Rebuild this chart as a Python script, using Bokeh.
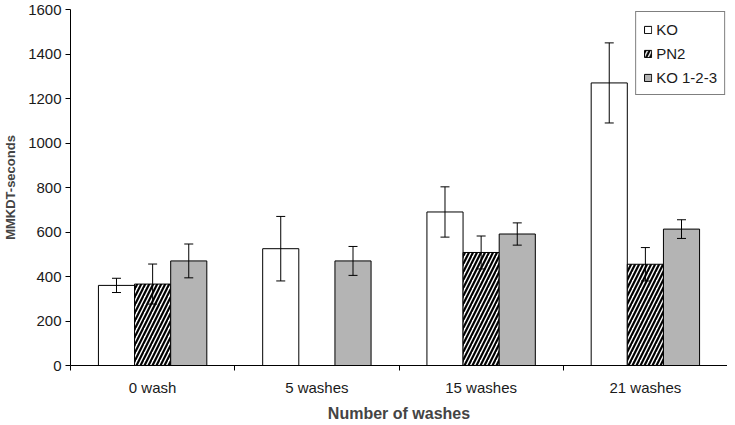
from bokeh.plotting import figure
from bokeh.models import (ColumnDataSource, Range1d, FixedTicker, Whisker, TeeHead,
                          Legend, LegendItem, Span)
from bokeh.embed import file_html
from bokeh.resources import INLINE

categories = ["0 wash", "5 washes", "15 washes", "21 washes"]
ko_vals = [360, 525, 690, 1270]
ko_err = [32, 145, 113, 180]
pn2_vals = [366, None, 508, 455]
pn2_err = [90, None, 74, 75]
ko123_vals = [470, 470, 591, 613]
ko123_err = [76, 65, 50, 42]
y_ticks = [0, 200, 400, 600, 800, 1000, 1200, 1400, 1600]

FONT = "Liberation Sans"
BAR_W = 0.22

p = figure(width=727, height=424, output_backend="svg", toolbar_location=None,
           x_range=Range1d(0, len(categories)), y_range=Range1d(0, 1600),
           min_border_left=66, min_border_right=0, min_border_top=9,
           min_border_bottom=55)
p.outline_line_color = None
p.xgrid.visible = False
p.ygrid.visible = False
p.background_fill_color = "white"
p.border_fill_color = "white"


def make_src(vals, errs, offset):
    xs, tops, lo, hi = [], [], [], []
    for i, (v, e) in enumerate(zip(vals, errs)):
        if v is None:
            continue
        xs.append(i + 0.5 + offset)
        tops.append(v)
        lo.append(v - e)
        hi.append(v + e)
    return ColumnDataSource(dict(x=xs, top=tops, lower=lo, upper=hi))


src_ko = make_src(ko_vals, ko_err, -BAR_W)
src_pn2 = make_src(pn2_vals, pn2_err, 0.0)
src_123 = make_src(ko123_vals, ko123_err, BAR_W)

r_ko = p.vbar(x="x", top="top", bottom=0, width=BAR_W, source=src_ko,
              fill_color="white", line_color="black", line_width=1)
r_pn2 = p.vbar(x="x", top="top", bottom=0, width=BAR_W, source=src_pn2,
               fill_color="white", line_color="black", line_width=1,
               hatch_pattern="/", hatch_color="black", hatch_weight=2.2,
               hatch_scale=8)
r_123 = p.vbar(x="x", top="top", bottom=0, width=BAR_W, source=src_123,
               fill_color="#b4b4b4", line_color="black", line_width=1)

for src in (src_ko, src_pn2, src_123):
    w = Whisker(base="x", lower="lower", upper="upper", source=src,
                level="annotation", line_color="black", line_width=1,
                upper_head=TeeHead(size=9, line_color="black", line_width=1),
                lower_head=TeeHead(size=9, line_color="black", line_width=1))
    p.add_layout(w)

# right border line
p.add_layout(Span(location=len(categories), dimension="height",
                  line_color="black", line_width=1))

# y axis
yax = p.yaxis[0]
yax.ticker = FixedTicker(ticks=y_ticks)
yax.major_tick_in = 0
yax.major_tick_out = 5
yax.minor_tick_line_color = None
yax.axis_line_color = "black"
yax.major_label_text_font = FONT
yax.major_label_text_font_size = "15px"
yax.major_label_text_color = "#1a1a1a"
yax.major_label_standoff = 4
yax.axis_label = "MMKDT-seconds"
yax.axis_label_text_font = FONT
yax.axis_label_text_font_size = "13px"
yax.axis_label_text_font_style = "bold"
yax.axis_label_standoff = 7

# x axis
xax = p.xaxis[0]
xax.ticker = FixedTicker(ticks=[i + 0.5 for i in range(len(categories))],
                         minor_ticks=list(range(len(categories) + 1)))
xax.major_label_overrides = {i + 0.5: c for i, c in enumerate(categories)}
xax.major_tick_line_color = None
xax.major_tick_in = 0
xax.major_tick_out = 0
xax.minor_tick_in = 0
xax.minor_tick_out = 5
xax.minor_tick_line_color = "black"
xax.axis_line_color = "black"
xax.major_label_text_font = FONT
xax.major_label_text_font_size = "15px"
xax.major_label_text_color = "#1a1a1a"
xax.major_label_standoff = 8
xax.axis_label = "Number of washes"
xax.axis_label_text_font = FONT
xax.axis_label_text_font_size = "16px"
xax.axis_label_text_font_style = "bold"
xax.axis_label_standoff = 6

legend = Legend(items=[LegendItem(label="KO", renderers=[r_ko]),
                       LegendItem(label="PN2", renderers=[r_pn2]),
                       LegendItem(label="KO 1-2-3", renderers=[r_123])],
                location="top_right", margin=2, padding=7, spacing=4,
                glyph_width=9, glyph_height=9, label_height=20,
                label_standoff=4,
                label_text_font=FONT, label_text_font_size="15px",
                label_text_color="#1a1a1a",
                border_line_color="black", border_line_width=1,
                background_fill_color="white", background_fill_alpha=1)
p.add_layout(legend)

open("out.html", "w").write(file_html(p, INLINE))
